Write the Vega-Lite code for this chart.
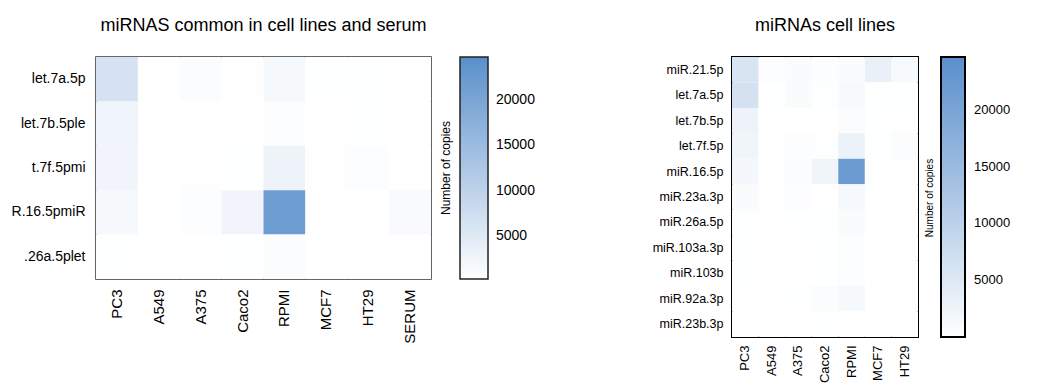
{
  "$schema": "https://vega.github.io/schema/vega-lite/v6.json",
  "background": "white",
  "padding": {"left": 10, "top": 16, "right": 5, "bottom": 5},
  "config": {
    "font": "Liberation Sans",
    "axis": {"ticks": false, "domain": false, "grid": false, "title": null, "labelColor": "#000", "labelFont": "Liberation Sans"},
    "legend": {"labelColor": "#000", "titleColor": "#000", "labelFont": "Liberation Sans", "titleFont": "Liberation Sans"},
    "title": {"fontWeight": "normal", "color": "#000", "font": "Liberation Sans", "frame": "group", "anchor": "middle"}
  },
  "spacing": 115,
  "datasets": {
    "common": [
      {"mirna": "let.7a.5p", "cell": "PC3", "copies": 6500}, {"mirna": "let.7a.5p", "cell": "A549", "copies": 150}, {"mirna": "let.7a.5p", "cell": "A375", "copies": 900}, {"mirna": "let.7a.5p", "cell": "Caco2", "copies": 400}, {"mirna": "let.7a.5p", "cell": "RPMI", "copies": 1500}, {"mirna": "let.7a.5p", "cell": "MCF7", "copies": 300}, {"mirna": "let.7a.5p", "cell": "HT29", "copies": 300}, {"mirna": "let.7a.5p", "cell": "SERUM", "copies": 200},
      {"mirna": "let.7b.5ple", "cell": "PC3", "copies": 2700}, {"mirna": "let.7b.5ple", "cell": "A549", "copies": 50}, {"mirna": "let.7b.5ple", "cell": "A375", "copies": 50}, {"mirna": "let.7b.5ple", "cell": "Caco2", "copies": 50}, {"mirna": "let.7b.5ple", "cell": "RPMI", "copies": 700}, {"mirna": "let.7b.5ple", "cell": "MCF7", "copies": 100}, {"mirna": "let.7b.5ple", "cell": "HT29", "copies": 300}, {"mirna": "let.7b.5ple", "cell": "SERUM", "copies": 100},
      {"mirna": "t.7f.5pmi", "cell": "PC3", "copies": 2300}, {"mirna": "t.7f.5pmi", "cell": "A549", "copies": 50}, {"mirna": "t.7f.5pmi", "cell": "A375", "copies": 400}, {"mirna": "t.7f.5pmi", "cell": "Caco2", "copies": 300}, {"mirna": "t.7f.5pmi", "cell": "RPMI", "copies": 2900}, {"mirna": "t.7f.5pmi", "cell": "MCF7", "copies": 400}, {"mirna": "t.7f.5pmi", "cell": "HT29", "copies": 700}, {"mirna": "t.7f.5pmi", "cell": "SERUM", "copies": 100},
      {"mirna": "R.16.5pmiR", "cell": "PC3", "copies": 1600}, {"mirna": "R.16.5pmiR", "cell": "A549", "copies": 200}, {"mirna": "R.16.5pmiR", "cell": "A375", "copies": 700}, {"mirna": "R.16.5pmiR", "cell": "Caco2", "copies": 2300}, {"mirna": "R.16.5pmiR", "cell": "RPMI", "copies": 22000}, {"mirna": "R.16.5pmiR", "cell": "MCF7", "copies": 200}, {"mirna": "R.16.5pmiR", "cell": "HT29", "copies": 150}, {"mirna": "R.16.5pmiR", "cell": "SERUM", "copies": 1200},
      {"mirna": ".26a.5plet", "cell": "PC3", "copies": 300}, {"mirna": ".26a.5plet", "cell": "A549", "copies": 50}, {"mirna": ".26a.5plet", "cell": "A375", "copies": 100}, {"mirna": ".26a.5plet", "cell": "Caco2", "copies": 300}, {"mirna": ".26a.5plet", "cell": "RPMI", "copies": 800}, {"mirna": ".26a.5plet", "cell": "MCF7", "copies": 50}, {"mirna": ".26a.5plet", "cell": "HT29", "copies": 50}, {"mirna": ".26a.5plet", "cell": "SERUM", "copies": 50}
    ],
    "lines": [
      {"mirna": "miR.21.5p", "cell": "PC3", "copies": 6000}, {"mirna": "miR.21.5p", "cell": "A549", "copies": 500}, {"mirna": "miR.21.5p", "cell": "A375", "copies": 800}, {"mirna": "miR.21.5p", "cell": "Caco2", "copies": 400}, {"mirna": "miR.21.5p", "cell": "RPMI", "copies": 900}, {"mirna": "miR.21.5p", "cell": "MCF7", "copies": 3200}, {"mirna": "miR.21.5p", "cell": "HT29", "copies": 1200},
      {"mirna": "let.7a.5p", "cell": "PC3", "copies": 6500}, {"mirna": "let.7a.5p", "cell": "A549", "copies": 100}, {"mirna": "let.7a.5p", "cell": "A375", "copies": 900}, {"mirna": "let.7a.5p", "cell": "Caco2", "copies": 300}, {"mirna": "let.7a.5p", "cell": "RPMI", "copies": 1200}, {"mirna": "let.7a.5p", "cell": "MCF7", "copies": 100}, {"mirna": "let.7a.5p", "cell": "HT29", "copies": 100},
      {"mirna": "let.7b.5p", "cell": "PC3", "copies": 2700}, {"mirna": "let.7b.5p", "cell": "A549", "copies": 50}, {"mirna": "let.7b.5p", "cell": "A375", "copies": 50}, {"mirna": "let.7b.5p", "cell": "Caco2", "copies": 50}, {"mirna": "let.7b.5p", "cell": "RPMI", "copies": 700}, {"mirna": "let.7b.5p", "cell": "MCF7", "copies": 100}, {"mirna": "let.7b.5p", "cell": "HT29", "copies": 200},
      {"mirna": "let.7f.5p", "cell": "PC3", "copies": 2300}, {"mirna": "let.7f.5p", "cell": "A549", "copies": 50}, {"mirna": "let.7f.5p", "cell": "A375", "copies": 400}, {"mirna": "let.7f.5p", "cell": "Caco2", "copies": 300}, {"mirna": "let.7f.5p", "cell": "RPMI", "copies": 2900}, {"mirna": "let.7f.5p", "cell": "MCF7", "copies": 300}, {"mirna": "let.7f.5p", "cell": "HT29", "copies": 600},
      {"mirna": "miR.16.5p", "cell": "PC3", "copies": 1600}, {"mirna": "miR.16.5p", "cell": "A549", "copies": 200}, {"mirna": "miR.16.5p", "cell": "A375", "copies": 700}, {"mirna": "miR.16.5p", "cell": "Caco2", "copies": 2300}, {"mirna": "miR.16.5p", "cell": "RPMI", "copies": 22000}, {"mirna": "miR.16.5p", "cell": "MCF7", "copies": 200}, {"mirna": "miR.16.5p", "cell": "HT29", "copies": 150},
      {"mirna": "miR.23a.3p", "cell": "PC3", "copies": 800}, {"mirna": "miR.23a.3p", "cell": "A549", "copies": 50}, {"mirna": "miR.23a.3p", "cell": "A375", "copies": 500}, {"mirna": "miR.23a.3p", "cell": "Caco2", "copies": 50}, {"mirna": "miR.23a.3p", "cell": "RPMI", "copies": 1500}, {"mirna": "miR.23a.3p", "cell": "MCF7", "copies": 50}, {"mirna": "miR.23a.3p", "cell": "HT29", "copies": 50},
      {"mirna": "miR.26a.5p", "cell": "PC3", "copies": 300}, {"mirna": "miR.26a.5p", "cell": "A549", "copies": 50}, {"mirna": "miR.26a.5p", "cell": "A375", "copies": 100}, {"mirna": "miR.26a.5p", "cell": "Caco2", "copies": 300}, {"mirna": "miR.26a.5p", "cell": "RPMI", "copies": 800}, {"mirna": "miR.26a.5p", "cell": "MCF7", "copies": 50}, {"mirna": "miR.26a.5p", "cell": "HT29", "copies": 50},
      {"mirna": "miR.103a.3p", "cell": "PC3", "copies": 300}, {"mirna": "miR.103a.3p", "cell": "A549", "copies": 50}, {"mirna": "miR.103a.3p", "cell": "A375", "copies": 50}, {"mirna": "miR.103a.3p", "cell": "Caco2", "copies": 100}, {"mirna": "miR.103a.3p", "cell": "RPMI", "copies": 400}, {"mirna": "miR.103a.3p", "cell": "MCF7", "copies": 50}, {"mirna": "miR.103a.3p", "cell": "HT29", "copies": 50},
      {"mirna": "miR.103b", "cell": "PC3", "copies": 300}, {"mirna": "miR.103b", "cell": "A549", "copies": 50}, {"mirna": "miR.103b", "cell": "A375", "copies": 50}, {"mirna": "miR.103b", "cell": "Caco2", "copies": 100}, {"mirna": "miR.103b", "cell": "RPMI", "copies": 400}, {"mirna": "miR.103b", "cell": "MCF7", "copies": 50}, {"mirna": "miR.103b", "cell": "HT29", "copies": 50},
      {"mirna": "miR.92a.3p", "cell": "PC3", "copies": 200}, {"mirna": "miR.92a.3p", "cell": "A549", "copies": 50}, {"mirna": "miR.92a.3p", "cell": "A375", "copies": 100}, {"mirna": "miR.92a.3p", "cell": "Caco2", "copies": 600}, {"mirna": "miR.92a.3p", "cell": "RPMI", "copies": 1300}, {"mirna": "miR.92a.3p", "cell": "MCF7", "copies": 50}, {"mirna": "miR.92a.3p", "cell": "HT29", "copies": 50},
      {"mirna": "miR.23b.3p", "cell": "PC3", "copies": 50}, {"mirna": "miR.23b.3p", "cell": "A549", "copies": 50}, {"mirna": "miR.23b.3p", "cell": "A375", "copies": 50}, {"mirna": "miR.23b.3p", "cell": "Caco2", "copies": 100}, {"mirna": "miR.23b.3p", "cell": "RPMI", "copies": 200}, {"mirna": "miR.23b.3p", "cell": "MCF7", "copies": 50}, {"mirna": "miR.23b.3p", "cell": "HT29", "copies": 50}
    ]
  },
  "resolve": {"scale": {"color": "independent"}, "legend": {"color": "independent"}},
  "hconcat": [
    {
      "data": {"name": "common"},
      "title": {"text": "miRNAS common in cell lines and serum", "fontSize": 18, "offset": 22},
      "width": 335,
      "height": 222,
      "view": {"stroke": "#333", "strokeWidth": 1.5},
      "mark": {"type": "rect"},
      "encoding": {
        "x": {"field": "cell", "type": "nominal", "sort": ["PC3", "A549", "A375", "Caco2", "RPMI", "MCF7", "HT29", "SERUM"], "scale": {"paddingInner": 0, "paddingOuter": 0},
              "axis": {"labelAngle": -90, "labelFontSize": 15, "labelPadding": 10, "labelAlign": "right", "labelBaseline": "middle"}},
        "y": {"field": "mirna", "type": "nominal", "sort": ["let.7a.5p", "let.7b.5ple", "t.7f.5pmi", "R.16.5pmiR", ".26a.5plet"], "scale": {"paddingInner": 0, "paddingOuter": 0},
              "axis": {"labelFontSize": 14, "labelPadding": 11}},
        "color": {"field": "copies", "type": "quantitative",
                  "scale": {"domain": [200, 24800], "range": ["#ffffff", "#5a8fcb"], "interpolate": "rgb", "zero": false},
                  "legend": {"title": "Number of copies", "titleOrient": "left", "titleAnchor": "middle", "titleFontSize": 12, "titleFontWeight": "normal",
                             "values": [5000, 10000, 15000, 20000], "format": "d", "gradientLength": 222, "gradientThickness": 28,
                             "gradientStrokeColor": "#222", "gradientStrokeWidth": 1.5, "labelFontSize": 14, "labelOffset": 8, "offset": 9, "titlePadding": 6}}
      }
    },
    {
      "data": {"name": "lines"},
      "title": {"text": "miRNAs cell lines", "fontSize": 18, "offset": 22},
      "width": 186,
      "height": 280,
      "view": {"stroke": "#000", "strokeWidth": 2},
      "mark": {"type": "rect"},
      "encoding": {
        "x": {"field": "cell", "type": "nominal", "sort": ["PC3", "A549", "A375", "Caco2", "RPMI", "MCF7", "HT29"], "scale": {"paddingInner": 0, "paddingOuter": 0},
              "axis": {"labelAngle": -90, "labelFontSize": 13, "labelPadding": 8, "labelAlign": "right", "labelBaseline": "middle"}},
        "y": {"field": "mirna", "type": "nominal", "sort": ["miR.21.5p", "let.7a.5p", "let.7b.5p", "let.7f.5p", "miR.16.5p", "miR.23a.3p", "miR.26a.5p", "miR.103a.3p", "miR.103b", "miR.92a.3p", "miR.23b.3p"], "scale": {"paddingInner": 0, "paddingOuter": 0},
              "axis": {"labelFontSize": 12.5, "labelPadding": 9}},
        "color": {"field": "copies", "type": "quantitative",
                  "scale": {"domain": [0, 24650], "range": ["#ffffff", "#5a8fcb"], "interpolate": "rgb", "zero": false},
                  "legend": {"title": "Number of copies", "titleOrient": "left", "titleAnchor": "middle", "titleFontSize": 10, "titleFontWeight": "normal",
                             "values": [5000, 10000, 15000, 20000], "format": "d", "gradientLength": 280, "gradientThickness": 24,
                             "gradientStrokeColor": "#000", "gradientStrokeWidth": 2, "labelFontSize": 13, "labelOffset": 9, "offset": 7, "titlePadding": 5}}
      }
    }
  ]
}
